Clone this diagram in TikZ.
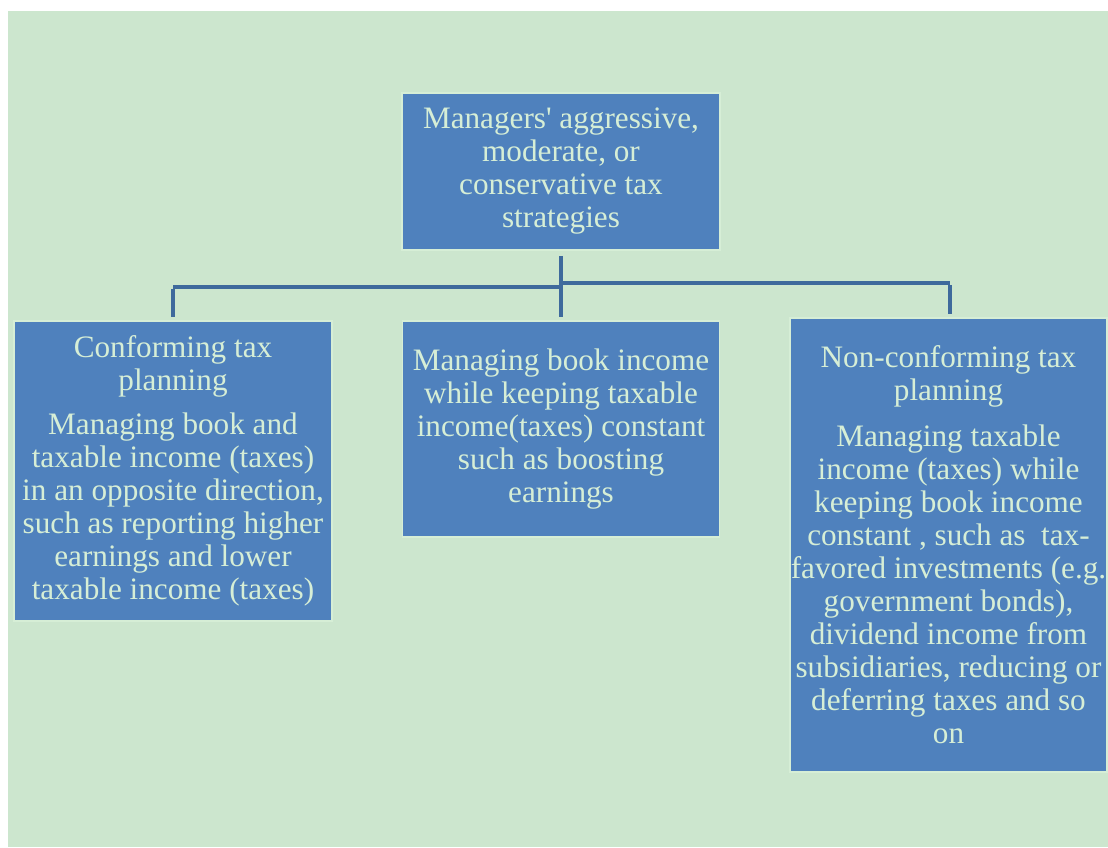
\documentclass[tikz,border=0pt]{standalone}
\usepackage{fontspec}
\setmainfont{Liberation Serif}
\definecolor{bgcol}{RGB}{204,230,206}
\definecolor{boxcol}{RGB}{79,129,189}
\definecolor{edgecol}{RGB}{214,238,214}
\definecolor{txtcol}{RGB}{214,238,214}
\definecolor{linecol}{RGB}{62,106,156}
\tikzset{
  tbox/.style={rectangle, draw=edgecol, line width=1.5pt, fill=boxcol, text=txtcol,
    align=center, inner sep=0pt, font=\fontsize{31.2}{33}\selectfont},
  conn/.style={draw=linecol, line width=4pt}
}
\begin{document}
\begin{tikzpicture}[x=1pt,y=-1pt]
\useasboundingbox (0,0) rectangle (1108,847);
\fill[white] (0,0) rectangle (1108,847);
\fill[bgcol] (8,11) rectangle (1108,847);

\node[tbox, minimum width=318pt, minimum height=157pt] (top) at (561,171.5)
  {Managers\textquotesingle\ aggressive,\\ moderate, or\\ conservative tax\\ strategies};
\node[tbox, minimum width=318pt, minimum height=300pt] (left) at (173,471)
  {Conforming tax\\ planning\\[11pt] Managing book and\\ taxable income (taxes)\\ in an opposite direction,\\ such as reporting higher\\ earnings and lower\\ taxable income (taxes)};
\node[tbox, minimum width=317pt, minimum height=216pt] (mid) at (561,429)
  {Managing book income\\ while keeping taxable\\ income(taxes) constant\\ such as boosting\\ earnings};
\node[tbox, minimum width=317pt, minimum height=454pt] (right) at (948.5,545)
  {Non-conforming tax\\ planning\\[13pt] Managing taxable\\ income (taxes) while\\ keeping book income\\ constant , such as\ \ tax-\\ favored investments (e.g.\\ government bonds),\\ dividend income from\\ subsidiaries, reducing or\\ deferring taxes and so\\ on};

\coordinate (jcl) at (561,287);
\coordinate (jcr) at (561,283);
\coordinate (jl) at (173,287);
\coordinate (jr) at (950,283);
\draw[conn] ([yshift=-5pt]top.south) -- ([yshift=3pt]mid.north);
\draw[conn] (jl) -- (jcl);
\draw[conn] (jcr) -- (jr);
\draw[conn] ([yshift=-2pt]jl) -- ([yshift=3pt]left.north);
\draw[conn] ([yshift=-2pt]jr) -- ([xshift=1.5pt,yshift=3pt]right.north);
\end{tikzpicture}
\end{document}
